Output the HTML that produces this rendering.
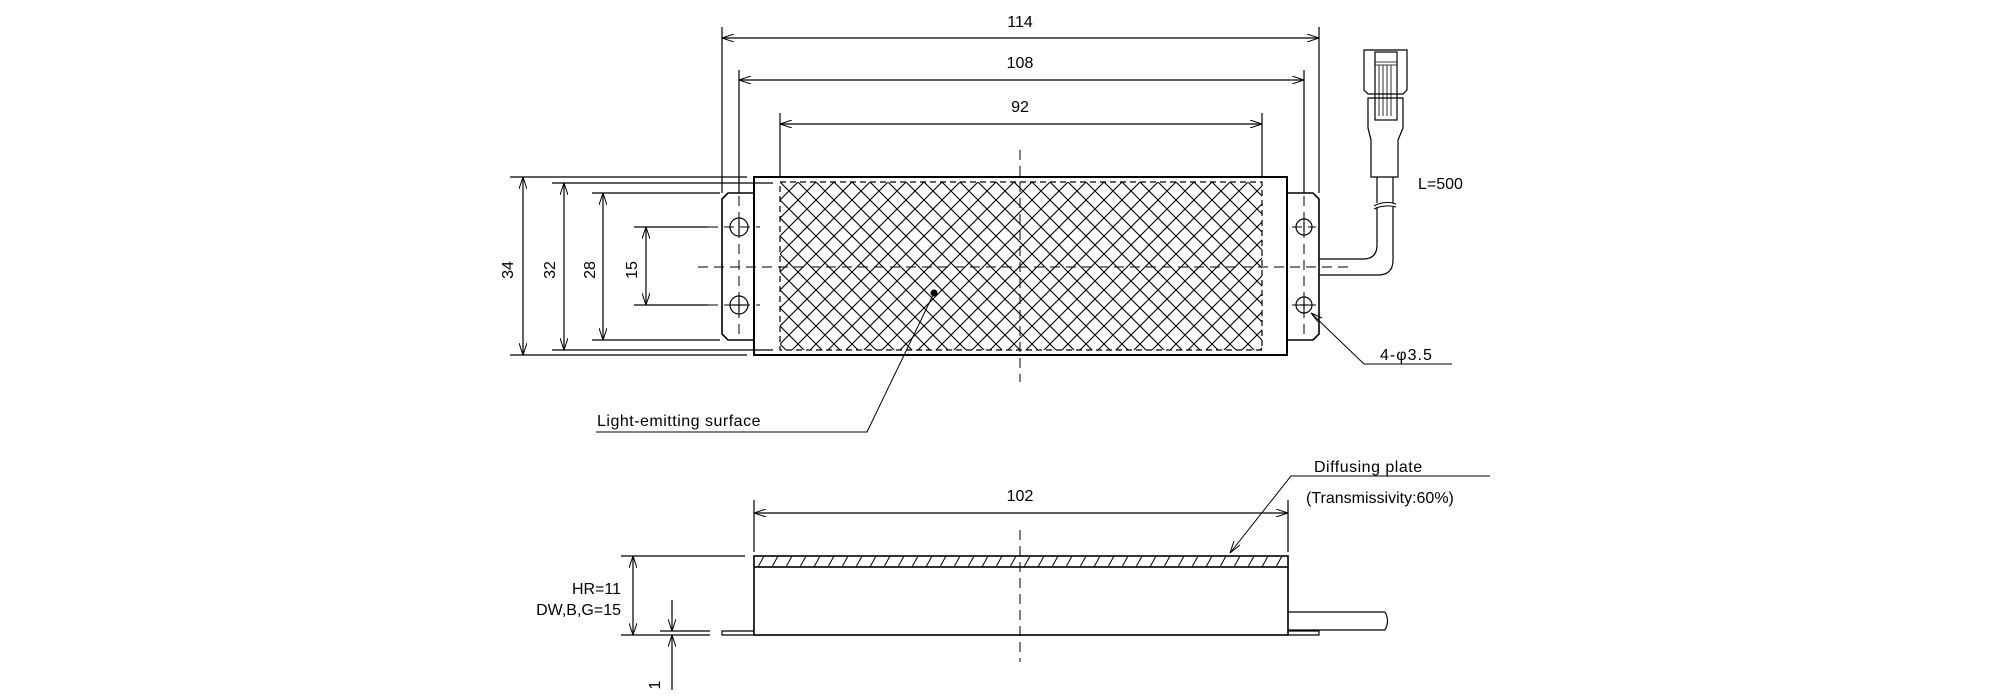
<!DOCTYPE html>
<html><head><meta charset="utf-8"><style>
html,body{margin:0;padding:0;background:#fff;}
svg{display:block;}
text{font-family:"Liberation Sans",sans-serif;font-size:16px;fill:#000;}
</style></head><body>
<svg width="2000" height="700" viewBox="0 0 2000 700" xmlns="http://www.w3.org/2000/svg">
<defs>
<pattern id="x" width="18" height="18" patternUnits="userSpaceOnUse" x="780" y="182">
<path d="M0 0L18 18M18 0L0 18" stroke="#000" stroke-width="1.1"/>
</pattern>
<pattern id="h" width="14" height="11" patternUnits="userSpaceOnUse" x="754" y="556">
<path d="M4 11L10 0" stroke="#000" stroke-width="1"/>
</pattern>
<marker id="a" viewBox="0 0 12 8" refX="12" refY="4" markerWidth="12" markerHeight="8" orient="auto-start-reverse" markerUnits="userSpaceOnUse">
<path d="M0 0L12 4L0 8" fill="none" stroke="#000" stroke-width="1"/>
</marker>
</defs>
<g stroke="#000" fill="none" stroke-width="1.2">
<!-- top dims -->
<line x1="722" y1="38" x2="1319" y2="38" marker-start="url(#a)" marker-end="url(#a)"/>
<line x1="739" y1="80" x2="1304" y2="80" marker-start="url(#a)" marker-end="url(#a)"/>
<line x1="780" y1="124" x2="1262" y2="124" marker-start="url(#a)" marker-end="url(#a)"/>
<line x1="722" y1="27" x2="722" y2="193"/>
<line x1="1319" y1="27" x2="1319" y2="193"/>
<line x1="739" y1="70" x2="739" y2="193"/>
<line x1="1304" y1="70" x2="1304" y2="193"/>
<line x1="780" y1="113" x2="780" y2="177"/>
<line x1="1262" y1="113" x2="1262" y2="177"/>
<!-- body -->
<rect x="754" y="177" width="533" height="178" stroke-width="2"/>
<rect x="780" y="182" width="482" height="168" fill="url(#x)" stroke-dasharray="6,4"/>
<path d="M754 193H728L722 199V334L728 340H754" stroke-width="1.6"/>
<path d="M1287 193H1313L1319 199V334L1313 340H1287" stroke-width="1.6"/>
<circle cx="739" cy="227" r="9"/><circle cx="739" cy="305" r="9"/>
<circle cx="1304" cy="227" r="8"/><circle cx="1304" cy="305" r="8"/>
<line x1="739" y1="220" x2="739" y2="234"/>
<line x1="732" y1="305" x2="746" y2="305"/><line x1="739" y1="298" x2="739" y2="312"/>
<line x1="1304" y1="222" x2="1304" y2="232"/>
<line x1="1300" y1="305" x2="1308" y2="305"/><line x1="1304" y1="301" x2="1304" y2="309"/>
<g stroke-dasharray="10,6" stroke-width="1">
<line x1="698" y1="267" x2="1350" y2="267"/>
<line x1="1020" y1="150" x2="1020" y2="382"/>
<line x1="739" y1="196" x2="739" y2="336"/>
<line x1="1304" y1="196" x2="1304" y2="336"/>
<line x1="708" y1="227" x2="760" y2="227"/>
<line x1="708" y1="305" x2="760" y2="305"/>
<line x1="1292" y1="227" x2="1316" y2="227"/>
<line x1="1292" y1="305" x2="1316" y2="305"/>
</g>
<!-- left dims -->
<line x1="523" y1="177" x2="523" y2="355" marker-start="url(#a)" marker-end="url(#a)"/>
<line x1="564" y1="183" x2="564" y2="350" marker-start="url(#a)" marker-end="url(#a)"/>
<line x1="603" y1="193" x2="603" y2="340" marker-start="url(#a)" marker-end="url(#a)"/>
<line x1="646" y1="227" x2="646" y2="305" marker-start="url(#a)" marker-end="url(#a)"/>
<line x1="510" y1="177" x2="747" y2="177"/><line x1="510" y1="355" x2="747" y2="355"/>
<line x1="552" y1="183" x2="773" y2="183"/><line x1="552" y1="350" x2="773" y2="350"/>
<line x1="592" y1="193" x2="720" y2="193"/><line x1="592" y1="340" x2="720" y2="340"/>
<line x1="634" y1="227" x2="708" y2="227"/><line x1="634" y1="305" x2="708" y2="305"/>
<!-- cable & connector -->
<path d="M1319 259H1363Q1377 259 1377 245V207M1319 275H1378Q1393 275 1393 260V207"/>
<path d="M1377 177V203M1393 177V203"/>
<path d="M1374 206Q1385 200 1396 204M1374 209Q1385 204 1396 207" stroke-width="1"/>
<path d="M1371 177H1398V140L1403 128V98H1368V128L1371 140Z"/>
<path d="M1364 50H1407V90L1403 94H1368L1364 90Z"/>
<rect x="1375" y="52" width="22" height="68"/>
<path d="M1379 65V116M1383 65V116M1387 65V116M1391 65V116M1375 65H1397M1375 62H1397" stroke-width="0.8"/>
<!-- leaders -->
<path d="M1311 313L1364 364H1452" stroke-width="1"/>
<path d="M1311 313L1322 318M1311 313L1318 322" stroke-width="1"/>
<path d="M934 293L867 432H596" stroke-width="1"/>
<!-- side view -->
<line x1="754" y1="513" x2="1288" y2="513" marker-start="url(#a)" marker-end="url(#a)"/>
<line x1="754" y1="500" x2="754" y2="552"/><line x1="1288" y1="500" x2="1288" y2="552"/>
<rect x="754" y="556" width="534" height="11" fill="url(#h)" stroke-width="1.6"/>
<path d="M754 567V635H1288V567" stroke-width="1.6"/>
<path d="M754 631H722V635H1319V631H1288" stroke-width="1.2"/>
<path d="M1288 612H1385M1288 630H1385M1385 612Q1390 621 1385 630"/>
<line x1="1020" y1="530" x2="1020" y2="662" stroke-dasharray="10,6" stroke-width="1"/>
<line x1="633" y1="556" x2="633" y2="635" marker-start="url(#a)" marker-end="url(#a)"/>
<line x1="621" y1="556" x2="745" y2="556"/><line x1="621" y1="635" x2="710" y2="635"/>
<line x1="660" y1="631" x2="710" y2="631"/>
<line x1="672" y1="600" x2="672" y2="631" marker-end="url(#a)"/>
<line x1="672" y1="690" x2="672" y2="635" marker-end="url(#a)"/>
<path d="M1490 476H1291L1230 553" stroke-width="1"/>
<path d="M1230 553L1234 541M1230 553L1240 545" stroke-width="1"/>
</g>
<circle cx="934" cy="293" r="3.5" fill="#000"/>
<g text-anchor="middle">
<text x="1020" y="27">114</text>
<text x="1020" y="68">108</text>
<text x="1020" y="112">92</text>
<text x="1020" y="501">102</text>
<text transform="translate(513,270) rotate(-90)">34</text>
<text transform="translate(555,270) rotate(-90)">32</text>
<text transform="translate(595,270) rotate(-90)">28</text>
<text transform="translate(637,270) rotate(-90)">15</text>
<text transform="translate(660,685) rotate(-90)">1</text>
</g>
<text x="1418" y="189">L=500</text>
<text x="1380" y="360" letter-spacing="1">4-φ3.5</text>
<text x="597" y="426" letter-spacing="0.5">Light-emitting surface</text>
<text x="1314" y="472" letter-spacing="0.5">Diffusing plate</text>
<text x="1306" y="503">(Transmissivity:60%)</text>
<text x="621" y="594" text-anchor="end">HR=11</text>
<text x="621" y="615" text-anchor="end">DW,B,G=15</text>
</svg>
</body></html>
